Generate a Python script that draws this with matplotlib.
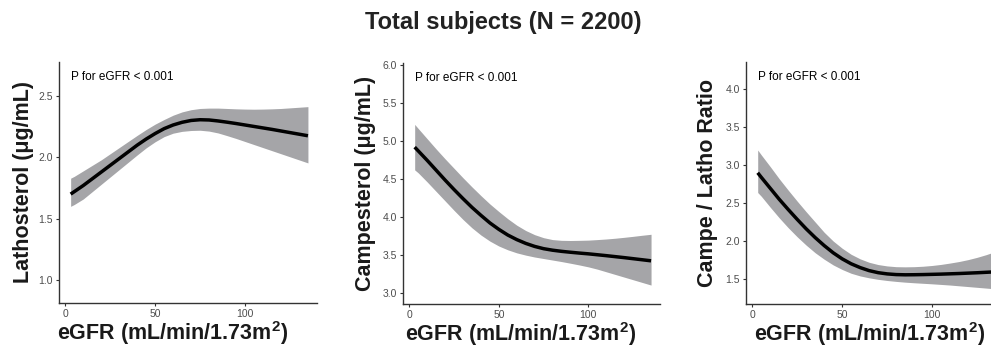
import matplotlib
matplotlib.use("Agg")
import matplotlib.pyplot as plt

plt.rcParams['font.family'] = ['Liberation Sans', 'DejaVu Sans']
plt.rcParams['mathtext.fontset'] = 'custom'
plt.rcParams['mathtext.bf'] = 'Liberation Sans:bold'
plt.rcParams['mathtext.rm'] = 'Liberation Sans'

# eGFR grid
egfr = [3, 5, 10, 15, 20, 25, 30, 35, 40, 45, 50, 55, 60, 65, 70,
        75, 80, 85, 90, 95, 100, 105, 110, 115, 120, 125, 130, 135]

# Lathosterol
lath_fit = [1.70, 1.72, 1.77, 1.825, 1.88, 1.935, 1.99, 2.045, 2.10, 2.15, 2.195, 2.235, 2.265, 2.287,
            2.302, 2.308, 2.306, 2.298, 2.288, 2.277, 2.265, 2.253, 2.241, 2.229, 2.216, 2.203, 2.19, 2.177]
lath_hi = [1.83, 1.845, 1.89, 1.935, 1.98, 2.03, 2.08, 2.13, 2.18, 2.228, 2.272, 2.31, 2.345, 2.372,
           2.39, 2.40, 2.403, 2.403, 2.40, 2.397, 2.395, 2.394, 2.395, 2.397, 2.40, 2.405, 2.41, 2.415]
lath_lo = [1.60, 1.615, 1.66, 1.72, 1.78, 1.84, 1.90, 1.96, 2.02, 2.078, 2.128, 2.17, 2.198, 2.213,
           2.22, 2.222, 2.215, 2.20, 2.178, 2.155, 2.13, 2.105, 2.08, 2.055, 2.03, 2.005, 1.98, 1.955]

# Campesterol
camp_fit = [4.92, 4.87, 4.745, 4.615, 4.485, 4.36, 4.24, 4.125, 4.02, 3.92, 3.835, 3.76, 3.70, 3.65,
            3.61, 3.58, 3.56, 3.545, 3.533, 3.522, 3.512, 3.50, 3.488, 3.475, 3.462, 3.448, 3.434, 3.42]
camp_hi = [5.22, 5.165, 5.03, 4.895, 4.765, 4.64, 4.515, 4.395, 4.28, 4.17, 4.07, 3.975, 3.89, 3.82,
           3.765, 3.725, 3.70, 3.69, 3.688, 3.69, 3.693, 3.70, 3.708, 3.718, 3.73, 3.743, 3.757, 3.77]
camp_lo = [4.62, 4.58, 4.46, 4.335, 4.21, 4.085, 3.965, 3.855, 3.76, 3.68, 3.615, 3.565, 3.525, 3.495,
           3.47, 3.45, 3.43, 3.41, 3.388, 3.365, 3.34, 3.31, 3.275, 3.24, 3.205, 3.17, 3.135, 3.10]

# Campe / Latho ratio
ratio_fit = [2.90, 2.84, 2.695, 2.55, 2.415, 2.285, 2.16, 2.045, 1.94, 1.845, 1.765, 1.70, 1.65, 1.61,
             1.583, 1.567, 1.558, 1.555, 1.556, 1.558, 1.561, 1.564, 1.568, 1.572, 1.577, 1.582, 1.588, 1.594]
ratio_hi = [3.20, 3.135, 2.98, 2.82, 2.67, 2.525, 2.385, 2.25, 2.115, 2.0, 1.905, 1.825, 1.765, 1.72,
            1.69, 1.672, 1.662, 1.66, 1.662, 1.668, 1.678, 1.692, 1.71, 1.73, 1.755, 1.785, 1.82, 1.86]
ratio_lo = [2.64, 2.59, 2.445, 2.305, 2.175, 2.055, 1.945, 1.845, 1.76, 1.685, 1.625, 1.575, 1.54, 1.515,
            1.495, 1.48, 1.468, 1.458, 1.45, 1.443, 1.436, 1.428, 1.42, 1.41, 1.40, 1.39, 1.38, 1.37]

ylabels = ['Lathosterol (\u03bcg/mL)', 'Campesterol (\u03bcg/mL)', 'Campe / Latho Ratio']
yticks = [[1.0, 1.5, 2.0, 2.5],
          [3.0, 3.5, 4.0, 4.5, 5.0, 5.5, 6.0],
          [1.5, 2.0, 2.5, 3.0, 3.5, 4.0]]
ylims = [(0.81, 2.78), (2.85, 6.03), (1.17, 4.36)]
xticks = [0, 50, 100]
ptext = 'P for eGFR < 0.001'
xlabel = r'eGFR (mL/min/1.73m$\mathbf{^{2}}$)'
title = 'Total subjects (N = 2200)'

fits = [lath_fit, camp_fit, ratio_fit]
his = [lath_hi, camp_hi, ratio_hi]
los = [lath_lo, camp_lo, ratio_lo]

fig = plt.figure(figsize=(9.91, 3.5), dpi=100)

# axes boxes in figure fractions (left, bottom, width, height)
boxes = [(0.0595, 0.1343, 0.2603, 0.6886),
         (0.4067, 0.1314, 0.2593, 0.6886),
         (0.7528, 0.1314, 0.2603, 0.6914)]
ylab_x = [-0.136, -0.148, -0.151]
xlab_x = [0.442, 0.459, 0.477]

for i in range(3):
    ax = fig.add_axes(boxes[i])
    ax.fill_between(egfr, los[i], his[i], color='#a5a5a8', linewidth=0)
    ax.plot(egfr, fits[i], color='black', lw=2.5, solid_capstyle='butt',
            solid_joinstyle='round')
    ax.set_xlim(-3.5, 140)
    ax.set_ylim(*ylims[i])
    ax.set_xticks(xticks)
    ax.set_yticks(yticks[i])
    ax.set_yticklabels(['%.1f' % v for v in yticks[i]])
    for s in ['top', 'right']:
        ax.spines[s].set_visible(False)
    for s in ['left', 'bottom']:
        ax.spines[s].set_color('#333333')
        ax.spines[s].set_linewidth(1.0)
    ax.tick_params(labelsize=7.5, labelcolor='#4d4d4d', color='#333333',
                   length=2.5, width=0.8, pad=2)
    ax.set_ylabel(ylabels[i], fontsize=15.5, fontweight='bold', color='#1a1a1a')
    ax.yaxis.set_label_coords(ylab_x[i], 0.5)
    ax.yaxis.label.set_va('center')
    ax.set_xlabel(xlabel, fontsize=15.5, fontweight='bold', color='#1a1a1a')
    ax.xaxis.set_label_coords(xlab_x[i], -0.124)
    ax.xaxis.label.set_va('center')
    ax.text(0.047, 0.938, ptext, transform=ax.transAxes, fontsize=8.5,
            ha='left', va='center', color='black')

fig.text(0.508, 0.937, title, fontsize=17, fontweight='bold', color='#222222',
         ha='center', va='center')

fig.savefig('out.png', dpi=100)
